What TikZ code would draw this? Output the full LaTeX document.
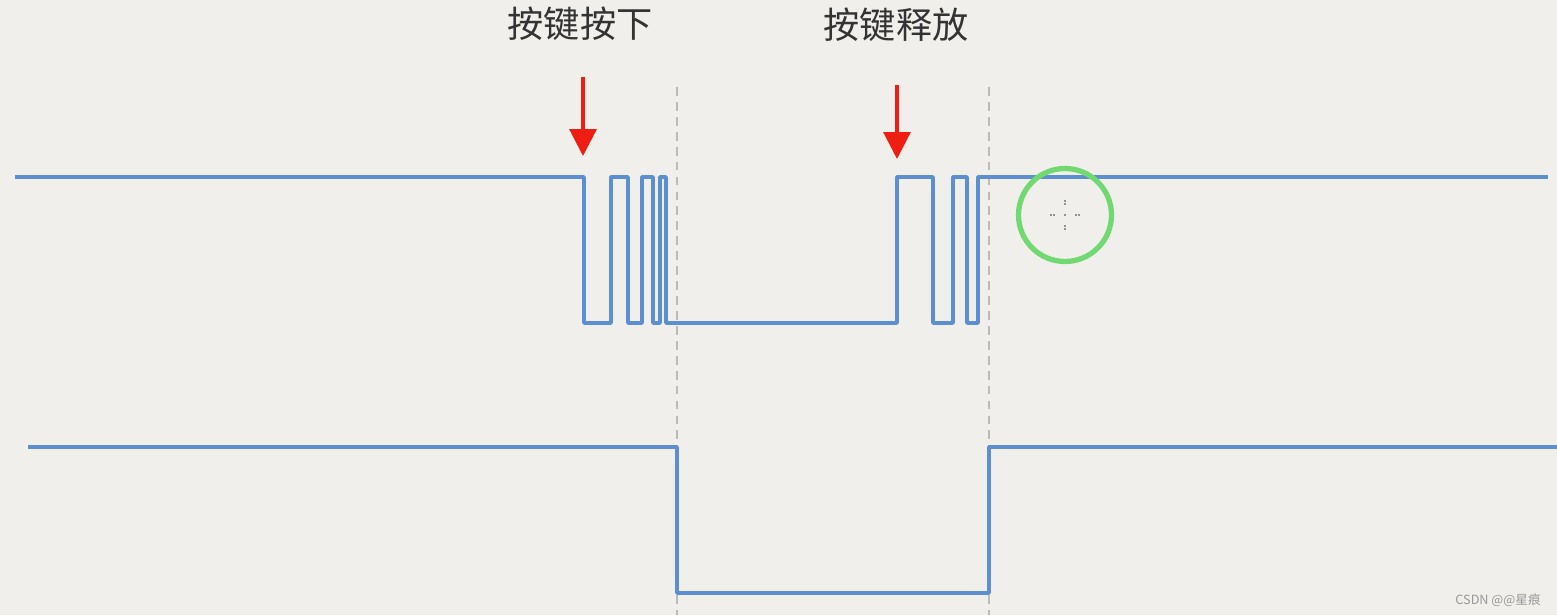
\documentclass[tikz,border=0pt]{standalone}
\usepackage{fontspec}
\newfontfamily\cjk{Noto Sans CJK SC}
\usetikzlibrary{arrows.meta}
\definecolor{bgc}{HTML}{F1EFEB}
\definecolor{wave}{HTML}{5B8FD2}
\definecolor{arr}{HTML}{EE1E12}
\definecolor{dashc}{HTML}{BDBBB8}
\definecolor{ring}{HTML}{72D872}
\tikzset{
  wavestyle/.style={draw=wave, line width=2.1pt, line join=round},
  guide/.style={draw=dashc, line width=1.1pt, dash pattern=on 5pt off 3.5pt},
  pointer/.style={draw=arr, line width=1.8pt, -{Triangle[width=15.3pt,length=15.3pt]}, arr},
  title/.style={font=\cjk\fontsize{20.6pt}{22pt}\selectfont, text=black!80, inner sep=0pt},
  wmark/.style={font=\cjk\fontsize{7.2pt}{8pt}\selectfont, text=black!40, inner sep=0pt}
}
\begin{document}
\begin{tikzpicture}[x=0.02cm,y=-0.02cm]
\fill[bgc] (0,0) rectangle (1557,615);
\useasboundingbox (0,0) rectangle (1557,615);
% guides
\draw[guide] (677,87) -- (677,615);
\draw[guide] (989,87) -- (989,615);
% top waveform
\draw[wavestyle] (15,177) -- (584,177) -- (584,323) -- (611,323) -- (611,177) -- (628,177) -- (628,323)
  -- (642,323) -- (642,177) -- (653,177) -- (653,323) -- (660,323) -- (660,177) -- (666,177) -- (666,323)
  -- (897,323) -- (897,177) -- (933,177) -- (933,323) -- (953,323) -- (953,177) -- (967,177) -- (967,323)
  -- (978,323) -- (978,177) -- (1548,177);
% bottom waveform
\draw[wavestyle] (28,447) -- (677,447) -- (677,593) -- (989,593) -- (989,447) -- (1557,447);
% titles
\node[title] (t1) at (580,24) {按键按下};
\node[title] (t2) at (896,25) {按键释放};
% arrows
\coordinate (a1s) at (583,77);
\coordinate (a1e) at (583,156);
\coordinate (a2s) at (897,85);
\coordinate (a2e) at (897,159);
\draw[pointer] (a1s) -- (a1e);
\draw[pointer] (a2s) -- (a2e);
% ring
\draw[ring, line width=3pt] (1065,215) circle (46.5);
\foreach \p in {(1065,201),(1065,204),(1051,215),(1054,215),(1065,215),(1076,215),(1079,215),(1065,226),(1065,229)}
  \fill[black!80] \p circle (0.9);
% watermark
\node[wmark, anchor=east] (wm) at (1541,600) {CSDN @@星痕};
\end{tikzpicture}
\end{document}
